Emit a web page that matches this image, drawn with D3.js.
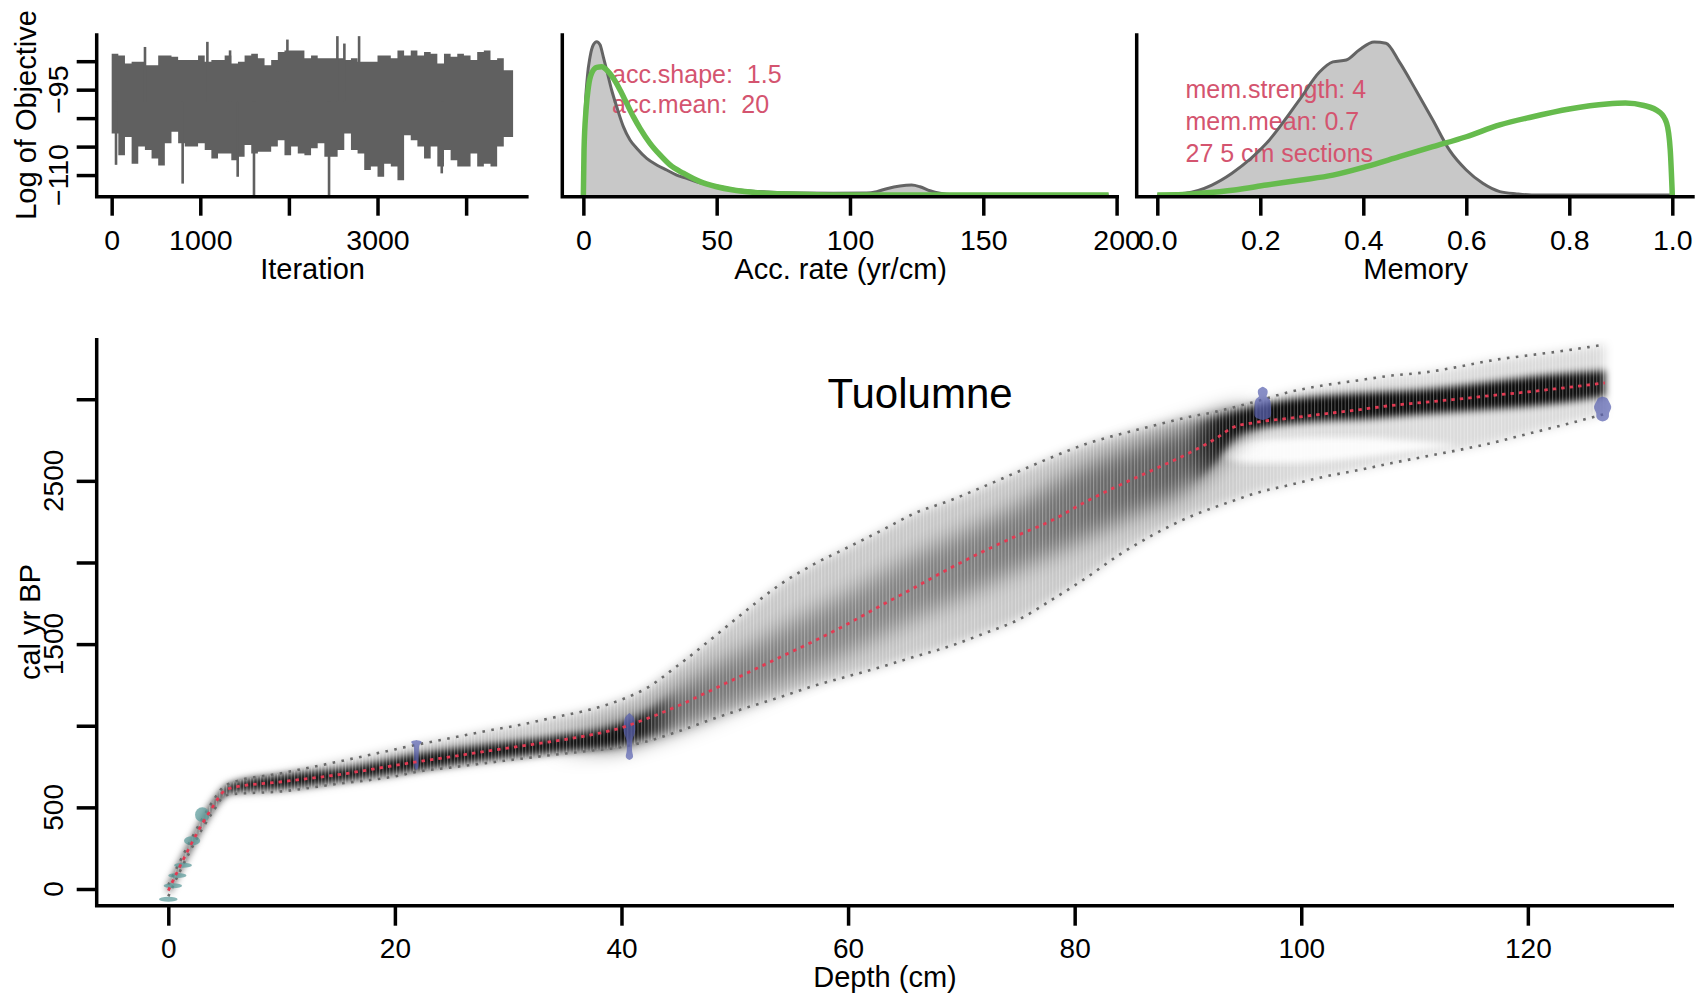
<!DOCTYPE html>
<html><head><meta charset="utf-8">
<script src="https://cdn.jsdelivr.net/npm/d3@7"></script>
<style>
body{margin:0;background:#fff;}
svg{display:block;}
</style></head><body>
<svg id="c" width="1707" height="997"></svg>
<script>
// ---------------- DATA ----------------
// MCMC trace (log of objective), read as min/max per block of iterations
const traceIter = [0,75,150,225,300,375,450,525,600,675,750,825,900,975,1050,1125,1200,1275,1350,1425,1500,1575,1650,1725,1800,1875,1950,2025,2100,2175,2250,2325,2400,2475,2550,2625,2700,2775,2850,2925,3000,3075,3150,3225,3300,3375,3450,3525,3600,3675,3750,3825,3900,3975,4050,4125,4200,4275,4350,4425];
const traceEnd = 4530;
const traceHi = [-88.7,-89.0,-90.4,-90.1,-90.1,-90.7,-90.7,-89.0,-89.0,-89.2,-89.8,-89.8,-89.8,-89.0,-90.1,-89.8,-89.8,-89.0,-90.4,-90.1,-89.0,-88.7,-89.5,-90.7,-89.8,-88.4,-88.1,-88.1,-88.1,-89.5,-89.0,-89.5,-89.5,-89.5,-89.5,-89.8,-89.5,-90.1,-90.1,-90.1,-89.0,-89.0,-89.5,-88.1,-89.0,-88.1,-89.0,-88.4,-88.7,-90.4,-88.7,-89.2,-88.7,-89.0,-89.8,-88.4,-88.1,-89.8,-89.5,-91.6];
const traceLo = [-102.7,-106.5,-103.3,-108.0,-105.0,-105.6,-107.1,-108.3,-104.4,-102.4,-104.4,-105.0,-105.0,-104.4,-105.6,-107.1,-106.2,-106.2,-107.4,-106.8,-104.7,-106.2,-105.9,-105.9,-105.0,-103.9,-106.5,-105.0,-106.2,-106.5,-105.3,-104.4,-106.8,-106.8,-105.6,-102.7,-105.6,-106.2,-109.1,-108.5,-110.3,-108.0,-108.5,-110.9,-103.0,-103.9,-105.0,-107.1,-105.0,-108.5,-105.6,-107.4,-108.5,-108.5,-106.2,-108.5,-108.0,-108.5,-105.0,-103.3];
const spikeIter = [49,376,801,1080,1336,1422,1606,1983,2453,2547,2626,2792,3725];
const spikeVal = [-108.2,-87.5,-111.5,-86.6,-88.1,-110.3,-113.5,-86.2,-113.5,-85.6,-86.9,-85.6,-109.7];
const iterTicks = [0,1000,2000,3000,4000];
const iterLabels = [0,1000,3000];
const objTicks = [-110,-105,-100,-95,-90];
const objLabels = [-95,-110];

// Accumulation rate: posterior (grey) and prior (green), relative density
const accPostX = [0,0.6,1.5,2.5,3.75,5,6.25,7.5,8.75,10.6,12.5,15,17.5,20,23.75,27.5,31.25,35,38.75,43.75,50,56.25,62.5,68.75,81.25,93.75,106.25,110,113.75,118.75,123.1,126.25,130,133.75,138.75,150,197];
const accPostY = [0,0.51,0.77,0.90,0.98,1.0,0.98,0.90,0.815,0.685,0.576,0.446,0.359,0.305,0.239,0.196,0.163,0.130,0.109,0.080,0.059,0.037,0.026,0.020,0.013,0.011,0.013,0.022,0.041,0.059,0.065,0.054,0.028,0.011,0.002,0,0];
const accPriorX = [0,0.25,1,1.9,3.1,5,6.9,8.75,11.25,13.75,16.25,18.75,21.25,25,28.75,32.5,37.5,43.75,50,56.25,62.5,68.75,81.25,93.75,197];
const accPriorY = [0,0.294,0.554,0.706,0.794,0.833,0.837,0.815,0.761,0.685,0.598,0.511,0.435,0.337,0.261,0.196,0.142,0.087,0.054,0.033,0.020,0.011,0.005,0,0];
const accTicks = [0,50,100,150,200];
const accText = ["acc.shape:  1.5","acc.mean:  20"];

// Memory: posterior (grey) and prior (green)
const memPostX = [0,0.054,0.106,0.145,0.212,0.276,0.315,0.341,0.367,0.392,0.421,0.444,0.47,0.502,0.535,0.567,0.6,0.632,0.665,0.698,0.727,1.0];
const memPostY = [0,0.011,0.065,0.142,0.337,0.620,0.802,0.868,0.881,0.946,0.998,0.990,0.868,0.685,0.489,0.294,0.163,0.076,0.022,0.007,0,0];
const memPriorX = [0,0.05,0.083,0.15,0.212,0.28,0.341,0.405,0.47,0.535,0.6,0.665,0.727,0.8,0.873,0.909,0.945,0.975,0.989,0.996,1.0];
const memPriorY = [0,0.003,0.011,0.033,0.065,0.098,0.130,0.185,0.250,0.315,0.380,0.457,0.509,0.561,0.594,0.600,0.584,0.541,0.468,0.294,0];
const memTicks = [0,0.2,0.4,0.6,0.8,1.0];
const memText = ["mem.strength: 4","mem.mean: 0.7","27 5 cm sections"];

// Age-depth model
const bandDepth = [0,1,2,3,4,4.85,5.5,10,15,20,22,25,28,31,34,37,40,42,45,48,51,54,57,60,63,66,69,72,75,78,81,84,87,90,92.5,94,96,99,102,105,108,111,114,117,120,123,126.8];
const meanAge  = [-10,135,272,400,512,596,618,657,700,757,780,811,843,874,905,940,988,1037,1122,1220,1320,1420,1519,1625,1740,1851,1965,2070,2167,2258,2373,2475,2570,2667,2761,2828,2858,2884,2910,2935,2962,2982,3002,3024,3045,3068,3100];
const upperAge = [25,165,302,430,545,625,648,709,780,855,885,925,967,1005,1050,1095,1160,1222,1370,1535,1705,1865,1990,2093,2198,2305,2380,2466,2556,2645,2726,2786,2839,2890,2924,2950,2986,3045,3085,3115,3145,3165,3200,3240,3268,3295,3335];
const lowerAge = [-45,105,242,370,480,566,580,598,645,690,719,745,771,797,822,845,870,900,965,1040,1110,1175,1245,1303,1362,1426,1488,1565,1648,1772,1905,2050,2172,2275,2342,2378,2425,2475,2525,2565,2609,2650,2690,2735,2788,2840,2910];
// greyness of the whole 95% envelope along depth
const envDepth = [0,92,100,126.8];
const envDark = [0.21,0.21,0.14,0.14];
// high-probability core of the age distributions and its darkness
const coreDepth = [0,2,4,5.5,10,16,22,28,34,40,42,45,48,52,56,60,65,70,75,80,85,90,92.5,94,96,101,106,110,116,122,126.8];
const coreLo = [-30,245,490,592,615,668,728,790,838,888,930,990,1070,1190,1320,1450,1630,1790,1960,2120,2290,2460,2620,2760,2815,2862,2880,2905,2935,2970,3020];
const coreHi = [15,295,540,645,698,745,828,885,935,1010,1075,1225,1360,1510,1670,1810,2010,2180,2350,2560,2710,2835,2890,2920,2960,3015,3040,3055,3100,3150,3175];
const coreDark = [0.9,0.9,0.9,0.9,0.9,0.9,0.9,0.9,0.9,0.85,0.7,0.5,0.42,0.37,0.35,0.35,0.35,0.37,0.4,0.45,0.5,0.56,0.7,0.85,0.95,0.95,0.95,0.95,0.95,0.95,0.9];
// low-probability gap between the two modes
const gapDepth = [92.5,94,96,99,102,105,108,111,113.5];
const gapLo = [2655,2625,2610,2610,2620,2640,2665,2690,2715];
const gapHi = [2665,2725,2750,2760,2765,2765,2755,2740,2722];

// cal BP dates (teal)
const calDepth = [0,0.4,0.8,1.3,2.1,3.0];
const calAge = [-63,20,83,145,295,455];
const calErr = [4,6,8,12,28,45];
// 14C dates (blue): calibrated distribution profiles
const c14Depth = [21.9,40.7,96.6,126.6];
const c14Age = [
  [728,745,780,820,860,885,893,900,906,912],
  [790,800,815,830,850,880,910,935,950,980,1010,1040,1060,1078],
  [2873,2885,2900,2930,2960,2990,3005,3016,3030,3050,3065,3077],
  [2863,2875,2895,2915,2935,2955,2975,2995,3010,3016]
];
const c14Dens = [
  [0,0.38,0.38,0.38,0.4,0.48,0.8,0.9,0.8,0],
  [0,0.55,0.65,0.5,0.42,0.42,0.45,0.7,0.9,1.0,0.95,0.85,0.6,0],
  [0,1.2,1.4,1.4,1.35,1.3,1.1,0.5,0.8,0.85,0.7,0],
  [0,0.9,1.1,1.0,1.35,1.5,1.2,0.95,0.7,0]
];
const depthTicks = [0,20,40,60,80,100,120];
const ageTicks = [0,500,1000,1500,2000,2500,3000];
const ageLabels = [0,500,1500,2500];
const title = "Tuolumne";

// ---------------- DRAW ----------------
const FONT = '"Liberation Sans", Arial, Helvetica, sans-serif';
const svg = d3.select('#c').attr('font-family', FONT);
const defs = svg.append('defs');
const AX = 3.5;

function boxL(x0, x1, yTop, yBot){
  svg.append('path').attr('d', `M${x0},${yTop}V${yBot}H${x1}`)
    .attr('fill','none').attr('stroke','#000').attr('stroke-width',AX).attr('stroke-linejoin','miter');
}
function styleAxis(g, fs){
  g.select('.domain').remove();
  g.attr('font-family', FONT).attr('font-size', fs);
  g.selectAll('line').attr('stroke','#000').attr('stroke-width',AX);
  g.selectAll('text').attr('fill','#000');
}

// ===== Panel 1: trace =====
const x1s = d3.scaleLinear().domain([-169, 4705]).range([96.7, 528.6]);
const y1s = d3.scaleLinear().domain([-113.8, -85.1]).range([196.7, 33.3]);
const p1 = svg.append('g');
const tracePts = traceIter.map((it,i) => ({it, hi: traceHi[i], lo: traceLo[i]}));
tracePts.push({it: traceEnd, hi: traceHi[traceHi.length-1], lo: traceLo[traceLo.length-1]});
p1.append('path').attr('d', d3.area().x(d => x1s(d.it)).y0(d => y1s(d.lo)).y1(d => y1s(d.hi)).curve(d3.curveStepAfter)(tracePts))
  .attr('fill', '#606060');
p1.selectAll('rect.sp').data(spikeIter).join('rect')
  .attr('x', d => x1s(d) - 1.3).attr('width', 2.6)
  .attr('y', (d,i) => Math.min(y1s(spikeVal[i]), y1s(-97)))
  .attr('height', (d,i) => Math.abs(y1s(spikeVal[i]) - y1s(-97)))
  .attr('fill', '#606060');
boxL(96.7, 528.6, 33.3, 196.7);
styleAxis(svg.append('g').attr('transform','translate(0,196.7)')
  .call(d3.axisBottom(x1s).tickValues(iterTicks).tickSize(19).tickPadding(14)
    .tickFormat(d => iterLabels.includes(d) ? String(d) : '')), 28.5);
styleAxis(svg.append('g').attr('transform','translate(96.7,0)')
  .call(d3.axisLeft(y1s).tickValues(objTicks).tickSize(20).tickFormat('')), 28.5);
svg.selectAll('text.ol').data(objLabels).join('text')
  .attr('transform', d => `translate(67.5,${y1s(d)}) rotate(-90)`)
  .attr('text-anchor','middle').attr('font-size',28.5).text(d => '\u2212' + Math.abs(d));
svg.append('text').attr('transform','translate(36,115) rotate(-90)').attr('text-anchor','middle')
  .attr('font-size',29).text('Log of Objective');
svg.append('text').attr('x',312.6).attr('y',279).attr('text-anchor','middle').attr('font-size',29).text('Iteration');

// ===== density panel helper =====
function densPanel(xs, postX, postY, priorX, priorY, texts, textX, textY0, textDy, ticks, fmt, x0, x1, label){
  const yD = d3.scaleLinear().domain([0,1]).range([195, 41.7]);
  const pts = postX.map((x,i) => [x, postY[i]]);
  const pr = priorX.map((x,i) => [x, priorY[i]]);
  const area = d3.area().x(d => xs(d[0])).y0(yD(0)).y1(d => yD(d[1])).curve(d3.curveMonotoneX);
  const line = d3.line().x(d => xs(d[0])).y(d => yD(d[1])).curve(d3.curveMonotoneX);
  svg.append('path').attr('d', area(pts)).attr('fill','#c8c8c8');
  svg.selectAll(null).data(texts).join('text')
    .attr('x', textX).attr('y', (d,i) => textY0 + i*textDy)
    .attr('font-size', 25).attr('fill', '#d4546f').style('white-space','pre').text(d => d);
  svg.append('path').attr('d', line(pts)).attr('fill','none').attr('stroke','#646464').attr('stroke-width',3);
  svg.append('path').attr('d', line(pr)).attr('fill','none').attr('stroke','#66bb4d').attr('stroke-width',5.5).attr('stroke-linejoin','round');
  boxL(x0, x1, 33.3, 196.7);
  styleAxis(svg.append('g').attr('transform','translate(0,196.7)')
    .call(d3.axisBottom(xs).tickValues(ticks).tickSize(19).tickPadding(14).tickFormat(fmt)), 28.5);
  svg.append('text').attr('x', (x0+x1)/2).attr('y', 279).attr('text-anchor','middle').attr('font-size',29).text(label);
}
const x2s = d3.scaleLinear().domain([-7.9, 200.9]).range([562.3, 1119]);
densPanel(x2s, accPostX, accPostY, accPriorX, accPriorY, accText, 612, 83.3, 30, accTicks, d3.format('d'), 562.3, 1119, 'Acc. rate (yr/cm)');
const x3s = d3.scaleLinear().domain([-0.04, 1.0435]).range([1136.7, 1694.7]);
densPanel(x3s, memPostX, memPostY, memPriorX, memPriorY, memText, 1185.5, 98.3, 31.8, memTicks, d3.format('.1f'), 1136.7, 1694.7, 'Memory');

// ===== Main age-depth panel =====
const xM = d3.scaleLinear().domain([-6.32, 132.9]).range([96.7, 1674]);
const yM = d3.scaleLinear().domain([-102.3, 3375]).range([905.7, 338]);

defs.append('clipPath').attr('id','plotClip').append('rect')
  .attr('x',98).attr('y',338).attr('width',1574).attr('height',566);
const blur = (id, s) => defs.append('filter').attr('id',id)
  .attr('x','-15%').attr('y','-15%').attr('width','130%').attr('height','130%')
  .append('feGaussianBlur').attr('stdDeviation', s);
blur('b5', 5); blur('b4', 3.5); blur('b3', 3); blur('b11', 11);

const bandIdx = d3.range(bandDepth.length);
const outerArea = d3.area().x(i => xM(bandDepth[i])).y0(i => yM(lowerAge[i])).y1(i => yM(upperAge[i])).curve(d3.curveMonotoneX);
const outerD = outerArea(bandIdx);
defs.append('clipPath').attr('id','bandClip').append('path').attr('d', outerD);

const gx0 = xM(0), gx1 = xM(126.8);
function depthGrad(id, depths, values, keep){
  const g = defs.append('linearGradient').attr('id',id).attr('gradientUnits','userSpaceOnUse')
    .attr('x1', gx0).attr('x2', gx1).attr('y1', 0).attr('y2', 0);
  depths.forEach((d,i) => g.append('stop')
    .attr('offset', (xM(d)-gx0)/(gx1-gx0)).attr('stop-color','#000')
    .attr('stop-opacity', keep(d) ? values[i] : 0));
}
depthGrad('envGrad', envDepth, envDark, () => true);
depthGrad('coreNarrow', coreDepth, coreDark, d => d <= 42 || d >= 92.5);
depthGrad('coreWide', coreDepth, coreDark, d => d >= 40 && d <= 94);

// stripes
const pat = defs.append('pattern').attr('id','stripes').attr('patternUnits','userSpaceOnUse')
  .attr('width', 3.4).attr('height', 20).attr('x', xM(0));
pat.append('rect').attr('x',0).attr('y',0).attr('width',1).attr('height',20).attr('fill','#fff').attr('fill-opacity',0.3);

const band = svg.append('g').attr('clip-path','url(#plotClip)');
band.append('path').attr('d', outerD).attr('fill','url(#envGrad)').attr('filter','url(#b5)');
const gapIdx = d3.range(gapDepth.length);
band.append('path').attr('d', d3.area().x(i => xM(gapDepth[i])).y0(i => yM(gapLo[i])).y1(i => yM(gapHi[i])).curve(d3.curveMonotoneX)(gapIdx))
  .attr('fill','#fff').attr('fill-opacity',0.9).attr('filter','url(#b3)');
const coreIdx = d3.range(coreDepth.length);
const coreD = d3.area().x(i => xM(coreDepth[i])).y0(i => yM(coreLo[i])).y1(i => yM(coreHi[i])).curve(d3.curveMonotoneX)(coreIdx);
band.append('path').attr('d', coreD).attr('fill','url(#coreWide)').attr('filter','url(#b11)');
band.append('path').attr('d', coreD).attr('fill','url(#coreNarrow)').attr('filter','url(#b4)');
band.append('rect').attr('x', xM(0)).attr('y', 338).attr('width', xM(127) - xM(0)).attr('height', 566)
  .attr('fill','url(#stripes)').attr('clip-path','url(#bandClip)');

// 95% range lines (grey dotted)
const lineOf = arr => d3.line().x(i => xM(bandDepth[i])).y(i => yM(arr[i])).curve(d3.curveMonotoneX)(bandIdx);
[upperAge, lowerAge].forEach(arr => band.append('path').attr('d', lineOf(arr))
  .attr('fill','none').attr('stroke','#6a6a6a').attr('stroke-width',2.6).attr('stroke-dasharray','2.6 6.4'));

// cal BP dates (teal)
band.selectAll('ellipse.cal').data(calDepth).join('ellipse')
  .attr('cx', d => xM(d)).attr('cy', (d,i) => yM(calAge[i]))
  .attr('rx', (d,i) => Math.max(7, 9.5 - calErr[i]*0.05))
  .attr('ry', (d,i) => Math.max(2.5, (yM(0) - yM(calErr[i]))))
  .attr('fill','#5a9a9a').attr('fill-opacity',0.72);

// 14C dates (blue)
const DW = 6;
c14Depth.forEach((dp, k) => {
  const pts = c14Age[k].map((a,i) => ({a, w: c14Dens[k][i]*DW}));
  const ar = d3.area().y(d => yM(d.a)).x0(d => xM(dp) - d.w).x1(d => xM(dp) + d.w).curve(d3.curveBasis);
  band.append('path').attr('d', ar(pts)).attr('fill','#5a62b0').attr('fill-opacity',0.72);
});

// mean line (red dotted)
band.append('path').attr('d', lineOf(meanAge)).attr('fill','none')
  .attr('stroke','#e23a52').attr('stroke-width',2.8).attr('stroke-dasharray','3.5 5');

// axes
boxL(96.7, 1674, 338, 905.7);
styleAxis(svg.append('g').attr('transform','translate(0,905.7)')
  .call(d3.axisBottom(xM).tickValues(depthTicks).tickSize(20).tickPadding(12).tickFormat(d3.format('d'))), 28);
styleAxis(svg.append('g').attr('transform','translate(96.7,0)')
  .call(d3.axisLeft(yM).tickValues(ageTicks).tickSize(20).tickFormat('')), 28);
svg.selectAll('text.al').data(ageLabels).join('text')
  .attr('transform', d => `translate(62.5,${yM(d)}) rotate(-90)`)
  .attr('text-anchor','middle').attr('font-size',28).text(d => String(d));
svg.append('text').attr('transform','translate(39.5,622) rotate(-90)').attr('text-anchor','middle')
  .attr('font-size',29).text('cal yr BP');
svg.append('text').attr('x',885).attr('y',987).attr('text-anchor','middle').attr('font-size',29).text('Depth (cm)');
svg.append('text').attr('x',920).attr('y',408).attr('text-anchor','middle').attr('font-size',42).text(title);
</script>
</body></html>
